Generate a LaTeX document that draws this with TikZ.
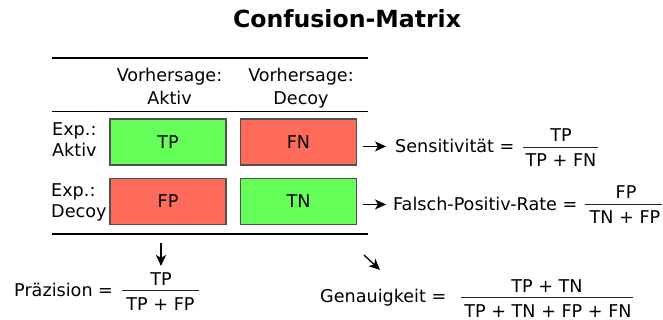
\documentclass[tikz,border=0pt]{standalone}
\usepackage{fontspec}
\setmainfont{DejaVu Sans}
\usetikzlibrary{arrows.meta}
\definecolor{cgreen}{RGB}{102,255,90}
\definecolor{cred}{RGB}{255,107,91}
\definecolor{cborder}{RGB}{80,80,80}
\begin{document}
\begin{tikzpicture}[x=1pt,y=-1pt,
  txt/.style={inner sep=0pt,font=\fontsize{17.6}{20}\selectfont},
  lbl/.style={txt,anchor=base},
  lblw/.style={txt,anchor=base west},
  cell/.style={txt,draw=cborder,line width=1.1pt,minimum width=116pt,minimum height=46pt},
  good/.style={cell,fill=cgreen},
  bad/.style={cell,fill=cred},
  rulethick/.style={line width=2pt},
  rulethin/.style={line width=1pt},
  fracbar/.style={line width=0.9pt,draw=black!85},
  arr/.style={line width=1.3pt,-{Stealth[length=11pt,width=10pt,inset=3pt]}}
]
\useasboundingbox (0,0) rectangle (663,320);

% title
\node[anchor=base,inner sep=0pt,font=\fontsize{23.6}{28}\selectfont\bfseries] (title) at (347,28) {Confusion-Matrix};

% rules
\coordinate (r1a) at (52,58);  \coordinate (r1b) at (368,58);
\coordinate (r2a) at (52,112); \coordinate (r2b) at (368,112);
\coordinate (r3a) at (52,234); \coordinate (r3b) at (368,234);
\draw[rulethick] (r1a) -- (r1b);
\draw[rulethin] (r2a) -- (r2b);
\draw[rulethick] (r3a) -- (r3b);

% column headers
\node[lbl] (h1a) at (169.5,82) {Vorhersage:};
\node[lbl] (h1b) at (169.5,105) {Aktiv};
\node[lbl] (h2a) at (301,82) {Vorhersage:};
\node[lbl] (h2b) at (301,105) {Decoy};

% row labels
\node[lblw] (e1a) at (52,136) {Exp.:};
\node[lblw] (e1b) at (52,157) {Aktiv};
\node[lblw] (e2a) at (51,197) {Exp.:};
\node[lblw] (e2b) at (51,218) {Decoy};

% cells
\node[good] (TP) at (168,142) {TP};
\node[bad]  (FN) at (298.5,142) {FN};
\node[bad]  (FP) at (168,201.5) {FP};
\node[good] (TN) at (298.5,201.5) {TN};

% Sensitivitaet
\node[lblw] (sens) at (395,153) {Sensitivität =};
\coordinate (sb1) at (523,147); \coordinate (sb2) at (598,147);
\draw[fracbar] (sb1) -- (sb2);
\node[lbl] (snum) at (561,142) {TP};
\node[lbl] (sden) at (561,167) {TP + FN};

% Falsch-Positiv-Rate
\node[lblw] (fpr) at (393,211) {Falsch-Positiv-Rate =};
\coordinate (fb1) at (585,204); \coordinate (fb2) at (662,204);
\draw[fracbar] (fb1) -- (fb2);
\node[lbl] (fnum) at (626,199) {FP};
\node[lbl] (fden) at (625,224) {TN + FP};

% Praezision
\node[lblw] (prec) at (14,296) {Präzision =};
\coordinate (pb1) at (122,290); \coordinate (pb2) at (199,290);
\draw[fracbar] (pb1) -- (pb2);
\node[lbl] (pnum) at (161,285) {TP};
\node[lbl] (pden) at (160.5,310) {TP + FP};

% Genauigkeit
\node[lblw] (acc) at (320,302) {Genauigkeit =};
\coordinate (gb1) at (461,297); \coordinate (gb2) at (633,297);
\draw[fracbar] (gb1) -- (gb2);
\node[lbl] (gnum) at (547,292) {TP + TN};
\node[lbl] (gden) at (548,317) {TP + TN + FP + FN};

% arrows
\draw[arr,shorten <=6pt,shorten >=9pt] (FN.east |- sens.west) -- (sens.west);
\draw[arr,shorten <=6pt,shorten >=7pt] (TN.east |- fpr.west) -- (fpr.west);
\coordinate (d1) at (161,243);
\draw[arr,shorten >=6pt] (d1) -- (pnum.north);
\coordinate (d2) at (364,255);
\coordinate (d3) at (380,270);
\draw[arr] (d2) -- (d3);
\end{tikzpicture}
\end{document}
